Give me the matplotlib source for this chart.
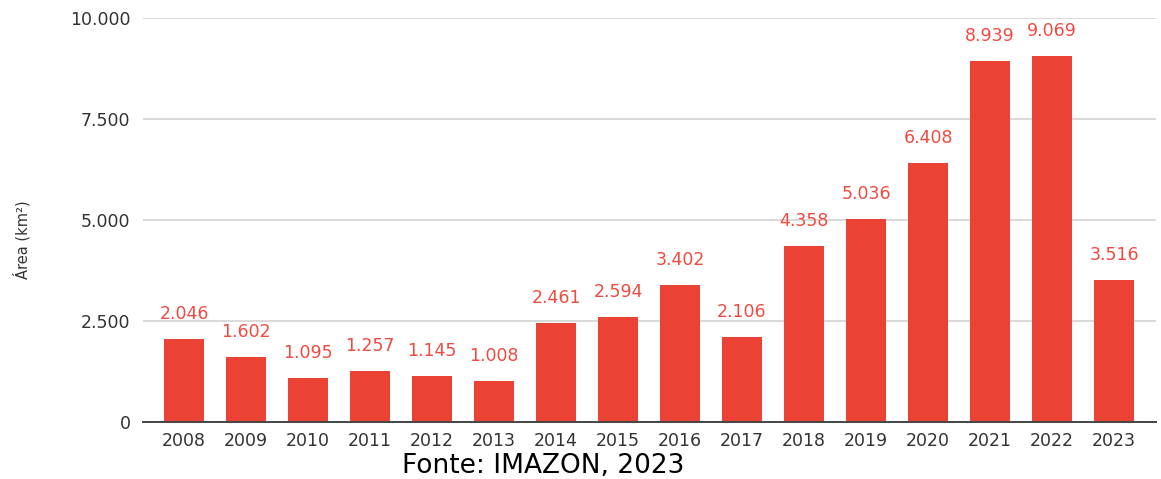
import matplotlib.pyplot as plt
from matplotlib.ticker import FuncFormatter

# dados (IMAZON)
anos = ['2008', '2009', '2010', '2011', '2012', '2013', '2014', '2015',
        '2016', '2017', '2018', '2019', '2020', '2021', '2022', '2023']
area = [2046, 1602, 1095, 1257, 1145, 1008, 2461, 2594,
        3402, 2106, 4358, 5036, 6408, 8939, 9069, 3516]
yticks = [0, 2500, 5000, 7500, 10000]


def br(v):
    # separador de milhar com ponto
    return f'{int(v):,}'.replace(',', '.')


fig = plt.figure(figsize=(11.61, 4.79), dpi=100)
ax = fig.add_axes([0.1232, 0.119, 0.8725, 0.8434])

x = list(range(len(anos)))
bars = ax.bar(x, area, width=0.645, color='#ea4335', zorder=3)

for xi, v in zip(x, area):
    ax.annotate(br(v), (xi, v), xytext=(0, 18), textcoords='offset points',
                ha='center', va='center', color='#f04a40', fontsize=12.5)

ax.set_xlim(-0.661, 15.677)
ax.set_ylim(0, 10000)
ax.set_yticks(yticks)
ax.yaxis.set_major_formatter(FuncFormatter(lambda v, p: br(v)))
ax.set_xticks(x)
ax.set_xticklabels(anos)

ax.grid(axis='y', color='#d0d0d0', linewidth=1.1, zorder=0)
for s in ['top', 'right', 'left']:
    ax.spines[s].set_visible(False)
ax.spines['bottom'].set_color('#444444')
ax.spines['bottom'].set_linewidth(1.4)
ax.spines['bottom'].set_zorder(4)
ax.tick_params(axis='both', length=0, labelsize=12.5, labelcolor='#333333')
ax.tick_params(axis='x', pad=7)
ax.tick_params(axis='y', pad=9)

fig.text(0.0185, 0.499, 'Área (km²)', rotation=90, ha='center', va='center',
         fontsize=10.5, color='#333333')
fig.text(0.468, 0.028, 'Fonte: IMAZON, 2023', ha='center', va='center',
         fontsize=19, color='black')

fig.savefig('out.png', dpi=100)
